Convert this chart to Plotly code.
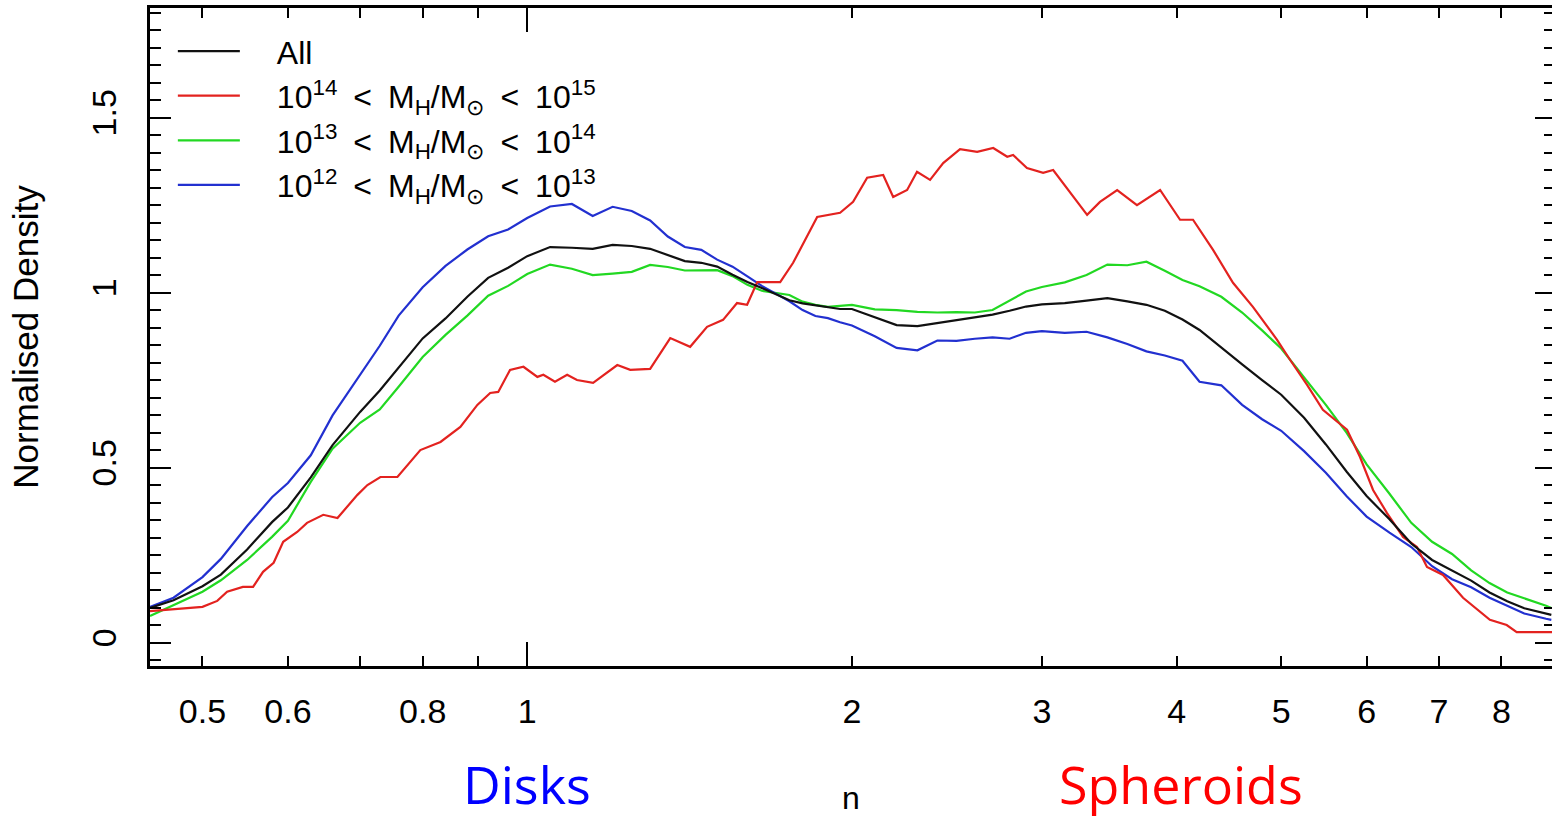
import numpy as np
import plotly.graph_objects as go

# ---------------- data ----------------
n_grid = [0.447, 0.47, 0.5, 0.52, 0.55, 0.58, 0.6, 0.63, 0.66, 0.7, 0.73, 0.76, 0.8, 0.84, 0.88,
          0.92, 0.96, 1.0, 1.05, 1.1, 1.15, 1.2, 1.25, 1.3, 1.35, 1.4, 1.45, 1.5, 1.55, 1.6,
          1.65, 1.7, 1.75, 1.8, 1.85, 1.9, 1.95, 2.0, 2.1, 2.2, 2.3, 2.4, 2.5, 2.6, 2.7, 2.8,
          2.9, 3.0, 3.15, 3.3, 3.45, 3.6, 3.75, 3.9, 4.05, 4.2, 4.4, 4.6, 4.8, 5.0, 5.25, 5.5,
          5.75, 6.0, 6.3, 6.6, 6.9, 7.2, 7.5, 7.8, 8.1, 8.4, 8.8, 8.9]

dens_all = [0.100, 0.122, 0.162, 0.195, 0.267, 0.345, 0.387, 0.473, 0.565, 0.660, 0.721, 0.787,
            0.870, 0.927, 0.989, 1.043, 1.072, 1.105, 1.131, 1.129, 1.126, 1.137, 1.134, 1.126,
            1.109, 1.091, 1.086, 1.075, 1.052, 1.031, 1.014, 0.997, 0.979, 0.970, 0.965, 0.960,
            0.954, 0.954, 0.931, 0.908, 0.905, 0.914, 0.921, 0.929, 0.938, 0.949, 0.961, 0.967,
            0.971, 0.978, 0.985, 0.976, 0.966, 0.949, 0.924, 0.894, 0.843, 0.796, 0.751, 0.709,
            0.643, 0.567, 0.489, 0.420, 0.353, 0.284, 0.237, 0.206, 0.178, 0.144, 0.119, 0.099,
            0.084, 0.080]

dens_13_14 = [0.077, 0.107, 0.146, 0.179, 0.237, 0.303, 0.349, 0.460, 0.555, 0.629, 0.667, 0.732,
              0.817, 0.880, 0.935, 0.992, 1.020, 1.054, 1.081, 1.069, 1.051, 1.055, 1.060, 1.080,
              1.074, 1.064, 1.064, 1.065, 1.048, 1.023, 1.006, 0.999, 0.994, 0.975, 0.966, 0.960,
              0.963, 0.966, 0.953, 0.951, 0.946, 0.944, 0.945, 0.944, 0.951, 0.977, 1.004, 1.017,
              1.030, 1.051, 1.081, 1.079, 1.089, 1.063, 1.037, 1.019, 0.989, 0.944, 0.893, 0.841,
              0.760, 0.680, 0.600, 0.510, 0.426, 0.343, 0.289, 0.254, 0.207, 0.171, 0.144, 0.128,
              0.106, 0.100]

dens_12_13 = [0.103, 0.129, 0.188, 0.240, 0.334, 0.416, 0.457, 0.536, 0.650, 0.765, 0.849, 0.935,
              1.016, 1.077, 1.124, 1.162, 1.181, 1.214, 1.247, 1.254, 1.220, 1.246, 1.234, 1.207,
              1.161, 1.131, 1.123, 1.095, 1.075, 1.047, 1.020, 0.998, 0.976, 0.951, 0.934, 0.928,
              0.916, 0.907, 0.876, 0.843, 0.836, 0.864, 0.863, 0.869, 0.873, 0.869, 0.886, 0.891,
              0.886, 0.889, 0.873, 0.854, 0.833, 0.821, 0.806, 0.746, 0.736, 0.680, 0.639, 0.606,
              0.548, 0.486, 0.419, 0.361, 0.315, 0.274, 0.219, 0.182, 0.159, 0.129, 0.106, 0.084,
              0.069, 0.066]

n_red = [0.447, 0.50, 0.516, 0.527, 0.545, 0.557, 0.569, 0.582, 0.594, 0.612, 0.625, 0.647, 0.667,
         0.696, 0.711, 0.731, 0.758, 0.796, 0.831, 0.867, 0.899, 0.924, 0.940, 0.964, 0.992, 1.022,
         1.035, 1.061, 1.089, 1.112, 1.151, 1.212, 1.246, 1.300, 1.357, 1.416, 1.468, 1.519, 1.565,
         1.599, 1.634, 1.716, 1.764, 1.857, 1.950, 2.005, 2.066, 2.138, 2.184, 2.250, 2.298, 2.363,
         2.430, 2.519, 2.613, 2.704, 2.786, 2.821, 2.906, 3.008, 3.073, 3.304, 3.396, 3.523, 3.675,
         3.861, 4.029, 4.142, 4.323, 4.511, 4.707, 4.956, 5.095, 5.284, 5.465, 5.754, 5.916, 6.083,
         6.267, 6.485, 6.681, 6.825, 7.063, 7.371, 7.806, 8.091, 8.266, 8.913]

dens_14_15 = [0.091, 0.103, 0.120, 0.146, 0.160, 0.160, 0.203, 0.229, 0.289, 0.317, 0.343, 0.366,
              0.357, 0.423, 0.451, 0.474, 0.474, 0.551, 0.574, 0.617, 0.680, 0.714, 0.717, 0.780,
              0.789, 0.760, 0.766, 0.746, 0.766, 0.751, 0.743, 0.794, 0.780, 0.783, 0.871, 0.846,
              0.903, 0.923, 0.971, 0.966, 1.031, 1.031, 1.086, 1.217, 1.229, 1.260, 1.329, 1.337,
              1.274, 1.294, 1.346, 1.323, 1.371, 1.411, 1.403, 1.414, 1.389, 1.394, 1.357, 1.343,
              1.351, 1.223, 1.260, 1.294, 1.251, 1.294, 1.209, 1.209, 1.123, 1.029, 0.960, 0.866,
              0.809, 0.737, 0.666, 0.609, 0.531, 0.437, 0.371, 0.303, 0.274, 0.217, 0.194, 0.129,
              0.066, 0.051, 0.031, 0.031]

x_tick_vals = [0.5, 0.6, 0.7, 0.8, 0.9, 1, 2, 3, 4, 5, 6, 7, 8]
x_tick_text = ["0.5", "0.6", "", "0.8", "", "1", "2", "3", "4", "5", "6", "7", "8"]
y_tick_vals = [0, 0.5, 1, 1.5]
y_tick_text = ["0", "0.5", "1", "1.5"]

X_RANGE = [np.log10(0.447), 0.950]
Y_RANGE = [-0.066, 1.814]

FONT = "Liberation Sans, Arial, Helvetica, sans-serif"
SP = "\u2002"
lbl = "\u200310<sup>%d</sup>" + SP + "&lt;" + SP + "M<sub>H</sub>/M<sub>⊙</sub>" + SP + "&lt;" + SP + "10<sup>%d</sup>"

fig = go.Figure()
fig.add_trace(go.Scatter(x=n_grid, y=dens_all, mode="lines", name="\u2003All",
                         line=dict(color="#111111", width=2.2), xaxis="x2", yaxis="y"))
fig.add_trace(go.Scatter(x=n_red, y=dens_14_15, mode="lines", name=lbl % (14, 15),
                         line=dict(color="#e3221f", width=2.2), xaxis="x", yaxis="y2"))
fig.add_trace(go.Scatter(x=n_grid, y=dens_13_14, mode="lines", name=lbl % (13, 14),
                         line=dict(color="#22d822", width=2.2)))
fig.add_trace(go.Scatter(x=n_grid, y=dens_12_13, mode="lines", name=lbl % (12, 13),
                         line=dict(color="#2230d0", width=2.2)))

axis_common = dict(showgrid=False, zeroline=False, tickcolor="black", tickwidth=2)

fig.update_layout(
    width=1552, height=816,
    margin=dict(l=150, r=0, t=8, b=150, autoexpand=False),
    paper_bgcolor="white", plot_bgcolor="white",
    font=dict(family=FONT, color="black"),
    xaxis=dict(type="log", range=X_RANGE, tickvals=x_tick_vals, ticktext=x_tick_text,
               ticks="inside", ticklen=10, showline=True, linewidth=2.5, linecolor="black",
               mirror="ticks", tickfont=dict(size=34), ticklabelstandoff=13,
               title=dict(text="n", font=dict(size=32), standoff=78), **axis_common),
    xaxis2=dict(type="log", range=X_RANGE, overlaying="x", side="bottom", anchor="y",
                tickvals=[1], ticks="inside", ticklen=24, showline=False, mirror="ticks",
                showticklabels=False, **axis_common),
    yaxis=dict(range=Y_RANGE, tickvals=y_tick_vals, ticktext=y_tick_text, ticks="inside",
               ticklen=21, showline=True, linewidth=2.5, linecolor="black", tickangle=-90,
               tickfont=dict(size=34), ticklabelstandoff=18,
               minor=dict(dtick=0.05, tick0=0, ticks="inside", ticklen=11, tickwidth=2,
                          tickcolor="black", showgrid=False),
               title=dict(text="Normalised Density", font=dict(size=35), standoff=36),
               **axis_common),
    yaxis2=dict(range=Y_RANGE, overlaying="y", side="right", anchor="x",
                tickvals=y_tick_vals, ticks="inside", ticklen=17, showline=False,
                showticklabels=False,
                minor=dict(dtick=0.05, tick0=0, ticks="inside", ticklen=8, tickwidth=2,
                           tickcolor="black", showgrid=False),
                **axis_common),
    legend=dict(x=0.0163, y=0.976, xanchor="left", yanchor="top", bgcolor="rgba(0,0,0,0)",
                font=dict(size=32, family=FONT), itemwidth=62, tracegroupgap=0),
    showlegend=True,
)

fig.add_annotation(text="Disks", x=0, xref="x", y=-0.178, yref="paper", showarrow=False,
                   font=dict(family="Open Sans, Noto Sans, sans-serif", size=52, color="#0000ff"),
                   xanchor="center", yanchor="middle")
fig.add_annotation(text="Spheroids", x=np.log10(4.04), xref="x", y=-0.178, yref="paper",
                   showarrow=False,
                   font=dict(family="Open Sans, Noto Sans, sans-serif", size=52, color="#ff0000"),
                   xanchor="center", yanchor="middle")

fig.write_html("out.html", config={"displayModeBar": False},
               post_script="document.body.style.margin='0';document.body.style.overflow='hidden';")
